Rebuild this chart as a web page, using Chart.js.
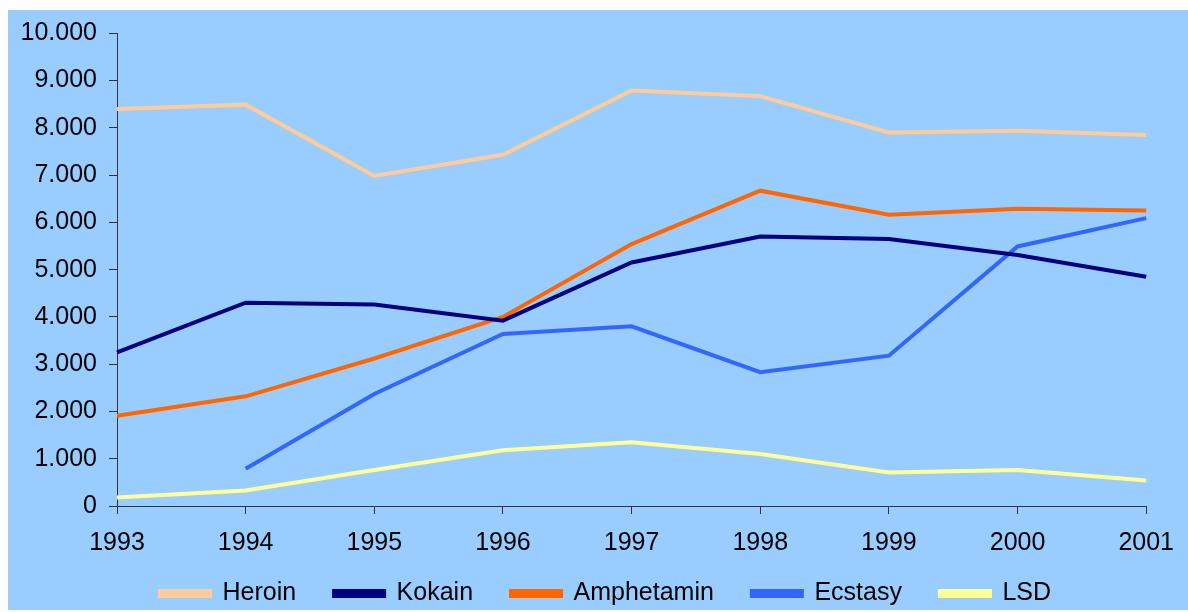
<!DOCTYPE html>
<html>
<head>
<meta charset="utf-8">
<script src="https://cdn.jsdelivr.net/npm/chart.js@4"></script>
<style>
    html, body {margin: 0; padding: 0; background: #fff;}
    #wrap {position: absolute; left: 8px; top: 10px; width: 1180px; height: 600px; background: #99ccff;}
</style>
</head>
<body>
<div id="wrap"><canvas id="chart" width="1180" height="600"></canvas></div>
<script>
const years = ['1993', '1994', '1995', '1996', '1997', '1998', '1999', '2000', '2001']
const heroin = [8400, 8490, 6980, 7430, 8790, 8670, 7900, 7940, 7850]
const kokain = [3250, 4300, 4260, 3920, 5150, 5700, 5650, 5310, 4850]
const amphetamin = [1910, 2320, 3120, 4000, 5540, 6670, 6160, 6290, 6250]
const ecstasy = [null, 790, 2370, 3640, 3800, 2830, 3180, 5490, 6090]
const lsd = [180, 330, 760, 1180, 1350, 1100, 710, 760, 540]

const font = {family: '"Liberation Sans", Arial, sans-serif', size: 25}

const line = (label, data, color) => ({
    label,
    data,
    borderColor: color,
    backgroundColor: color,
    borderWidth: 4,
    pointRadius: 0,
    tension: 0,
    fill: false,
})

Chart.defaults.color = '#000'
Chart.defaults.font = font

// nudge the legend so it sits where the original one does,
// and give the x labels room below their (tight) box so they aren't clipped
const layoutTweak = {
    id: 'layout-tweak',
    afterLayout(chart) {
        const lg = chart.legend
        lg.left += 28
        lg.right += 28
        lg.top += 6
        lg.bottom += 6
        const x = chart.scales.x
        x.bottom += 25
        x.height += 25
    },
}

new Chart(document.getElementById('chart'), {
    type: 'line',
    data: {
        labels: years,
        datasets: [
            line('Heroin', heroin, '#ffcc99'),
            line('Kokain', kokain, '#000080'),
            line('Amphetamin', amphetamin, '#ff6600'),
            line('Ecstasy', ecstasy, '#3366ff'),
            line('LSD', lsd, '#ffff99'),
        ],
    },
    options: {
        responsive: false,
        animation: false,
        layout: {padding: {top: 0, right: 41, left: 0, bottom: 0}},
        plugins: {
            tooltip: {enabled: false},
            legend: {
                position: 'bottom',
                labels: {
                    boxWidth: 50,
                    boxHeight: 5,
                    padding: 38,
                    font,
                    color: '#000',
                },
            },
        },
        scales: {
            x: {
                offset: false,
                border: {display: true, color: '#333', width: 1},
                grid: {display: true, drawOnChartArea: false, drawTicks: true, tickLength: 8, color: '#333'},
                ticks: {font, color: '#000', padding: 14, maxRotation: 0, autoSkip: false},
                afterFit: axis => { axis.height = 31 },
            },
            y: {
                min: 0,
                max: 10000,
                border: {display: true, color: '#333', width: 1},
                grid: {display: true, drawOnChartArea: false, drawTicks: true, tickLength: 8, color: '#333'},
                ticks: {
                    stepSize: 1000,
                    font: {...font, lineHeight: 0.9},
                    color: '#000',
                    padding: 12,
                    callback: v => v.toLocaleString('de-DE'),
                },
                afterFit: axis => { axis.width = 109 },
            },
        },
    },
    plugins: [layoutTweak],
})
</script>
</body>
</html>
